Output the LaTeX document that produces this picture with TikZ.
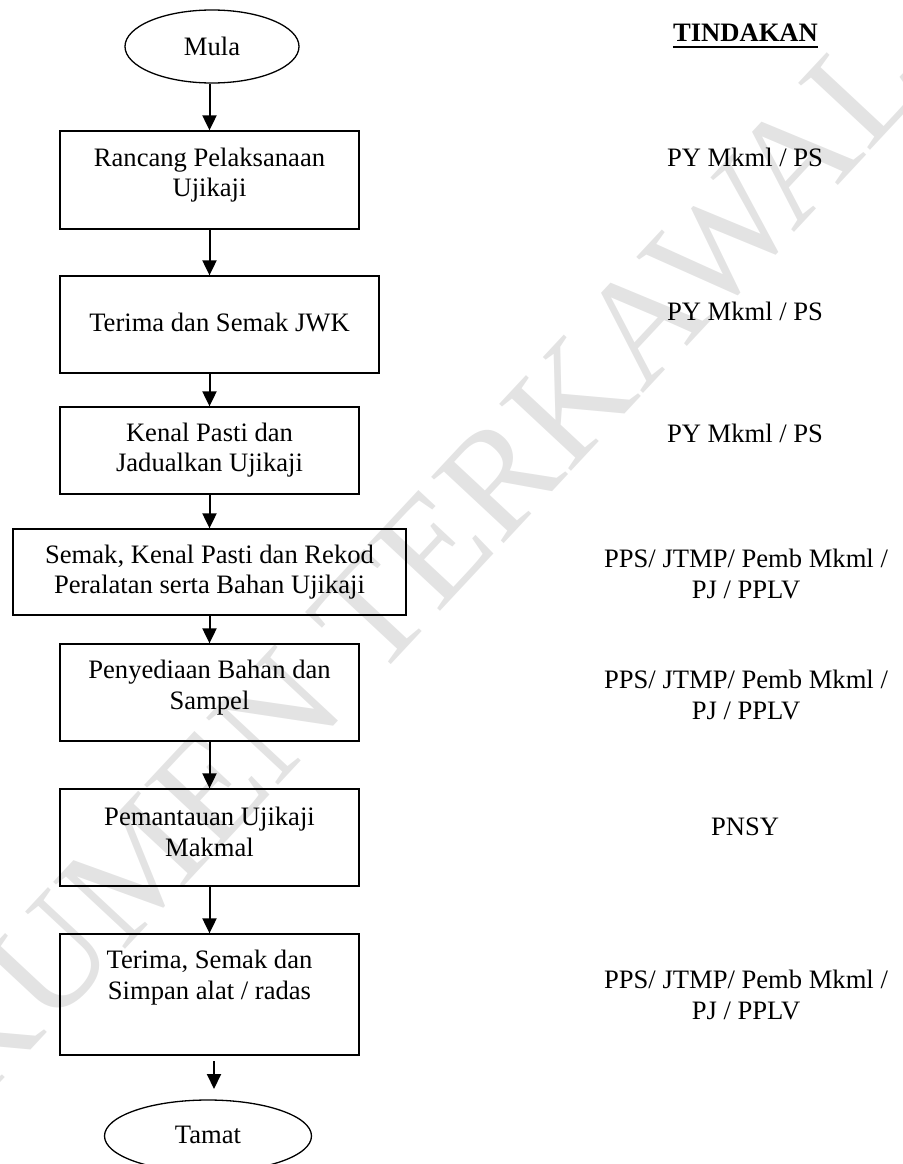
\documentclass[tikz,border=0pt]{standalone}
\usepackage{fontspec}
\setmainfont{Liberation Serif}
\usetikzlibrary{shapes.geometric,arrows.meta}
\begin{document}
\begin{tikzpicture}[x=1pt,y=-1pt,
  box/.style={draw, line width=1.3pt, rectangle, inner sep=0pt, minimum width=299pt},
  term/.style={draw, line width=1.3pt, ellipse, inner sep=0pt},
  txt/.style={font=\fontsize{26.6}{30.5}\selectfont, align=center, inner sep=0pt},
  flow/.style={line width=2pt, -{Triangle[length=15pt,width=14pt]}},
  wm/.style={font=\fontsize{150}{150}\selectfont, text=black!11, inner sep=0pt}]
\useasboundingbox (0,0) rectangle (902,1164);
% watermark
\node[wm, rotate=47] (wmk) at (343,645) {DOKUMEN TERKAWAL};
% terminals
\node[term, minimum width=174pt, minimum height=73pt] (mula) at (212,46.5) {};
\node[txt] (tmula) at (212,46) {Mula};
\node[term, minimum width=207pt, minimum height=72pt] (tamat) at (208,1136) {};
\node[txt] (ttamat) at (208,1135) {Tamat};
% boxes
\node[box, minimum height=98pt] (b1) at (209.5,180) {};
\node[box, minimum width=319pt, minimum height=97pt] (b2) at (219.5,324.5) {};
\node[box, minimum height=87pt] (b3) at (209.5,450.5) {};
\node[box, minimum width=393pt, minimum height=86pt] (b4) at (209.5,572) {};
\node[box, minimum height=97pt] (b5) at (209.5,692.5) {};
\node[box, minimum height=97pt] (b6) at (209.5,837.5) {};
\node[box, minimum height=121pt] (b7) at (209.5,994.5) {};
% box texts
\node[txt] (t1) at (209.5,175) {Rancang Pelaksanaan\\Ujikaji};
\node[txt] (t2) at (219.5,322) {Terima dan Semak JWK};
\node[txt] (t3) at (209.5,450) {Kenal Pasti dan\\Jadualkan Ujikaji};
\node[txt] (t4) at (209.5,572) {Semak, Kenal Pasti dan Rekod\\Peralatan serta Bahan Ujikaji};
\node[txt] (t5) at (209.5,687.5) {Penyediaan Bahan dan\\Sampel};
\node[txt] (t6) at (209.5,832) {Pemantauan Ujikaji\\Makmal};
\node[txt] (t7) at (209.5,977.5) {Terima, Semak dan\\Simpan alat / radas};
% arrows
\draw[flow] (mula.south -| b1.south) -- (b1.north);
\draw[flow] (b1.south) -- (b1.south |- b2.north);
\draw[flow] (b1.south |- b2.south) -- (b3.north);
\draw[flow] (b3.south) -- (b4.north);
\draw[flow] (b4.south) -- (b5.north);
\draw[flow] (b5.south) -- (b6.north);
\draw[flow] (b6.south) -- (b7.north);
\coordinate (a7s) at (214,1061);
\coordinate (a7e) at (214,1089);
\draw[flow] (a7s) -- (a7e);
% actions column
\node[txt] (hdr) at (745.5,33) {\textbf{TINDAKAN}};
\draw[line width=1.8pt] ([yshift=-5.5pt]hdr.base west) -- ([yshift=-5.5pt]hdr.base east);
\node[txt] (r1) at (745,157) {PY Mkml / PS};
\node[txt] (r2) at (745,311) {PY Mkml / PS};
\node[txt] (r3) at (745,433) {PY Mkml / PS};
\node[txt] (r4) at (746,574) {PPS/ JTMP/ Pemb Mkml /\\PJ / PPLV};
\node[txt] (r5) at (746,695) {PPS/ JTMP/ Pemb Mkml /\\PJ / PPLV};
\node[txt] (r6) at (745,827) {PNSY};
\node[txt] (r7) at (746,995) {PPS/ JTMP/ Pemb Mkml /\\PJ / PPLV};
\end{tikzpicture}
\end{document}
